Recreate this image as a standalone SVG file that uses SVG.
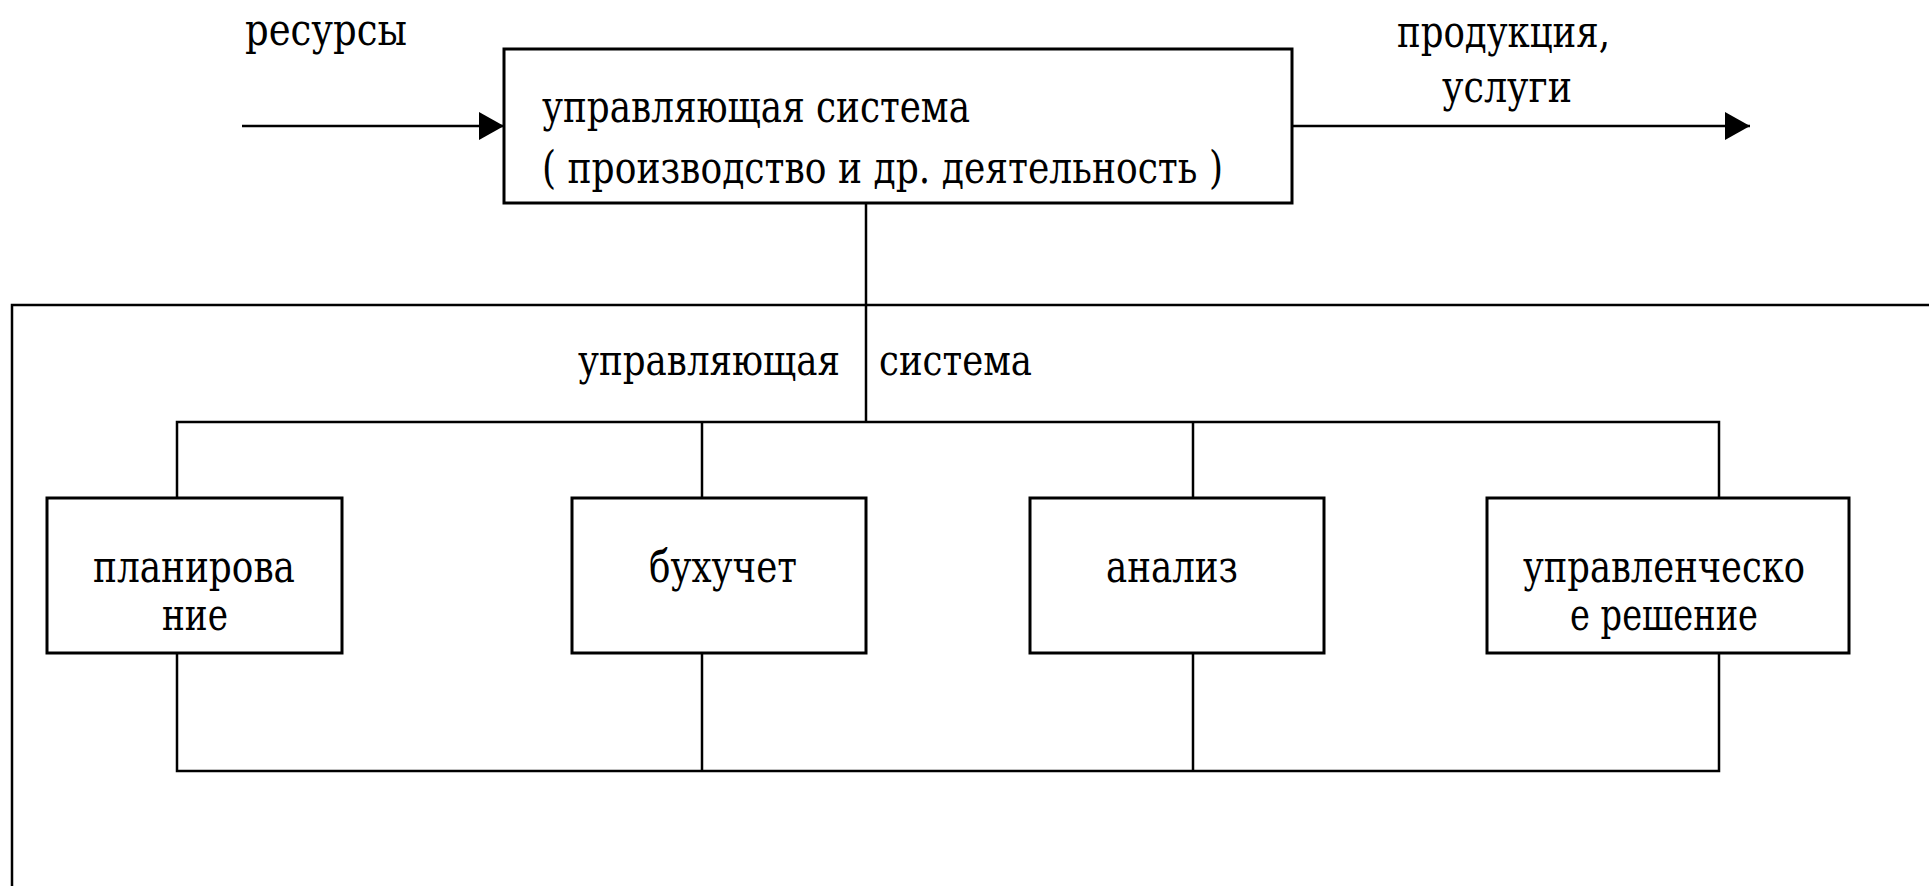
<svg xmlns="http://www.w3.org/2000/svg" width="1929" height="886" viewBox="0 0 1929 886">
<style>
.t{font-family:"DejaVu Serif","Liberation Serif",serif;font-size:44px;fill:#000;}
.s{font-size:42px;}
.box{fill:#fff;stroke:#000;stroke-width:3;}
.ln{fill:none;stroke:#000;stroke-width:2.5;}
</style>
<defs>
<marker id="ah" markerUnits="userSpaceOnUse" markerWidth="26" markerHeight="28" refX="25" refY="14" orient="auto">
<path d="M0,0 L25,14 L0,28 Z" fill="#000"/>
</marker>
</defs>
<rect width="1929" height="886" fill="#fff"/>
<g id="connectors">
<line class="ln" x1="242" y1="126" x2="504" y2="126" marker-end="url(#ah)"/>
<line class="ln" x1="1292" y1="126" x2="1750" y2="126" marker-end="url(#ah)"/>
<path class="ln" d="M12,886 V305 H1929"/>
<line class="ln" x1="866" y1="203" x2="866" y2="422"/>
<path class="ln" d="M177,498 V422 H1719 V498"/>
<line class="ln" x1="702" y1="422" x2="702" y2="498"/>
<line class="ln" x1="1193" y1="422" x2="1193" y2="498"/>
<path class="ln" d="M177,653 V771 H1719 V653"/>
<line class="ln" x1="702" y1="653" x2="702" y2="771"/>
<line class="ln" x1="1193" y1="653" x2="1193" y2="771"/>
</g>
<g id="label-resources"><text class="t" x="245" y="45" textLength="162" lengthAdjust="spacingAndGlyphs">ресурсы</text></g>
<g id="label-products">
<text class="t" x="1397" y="47" textLength="213" lengthAdjust="spacingAndGlyphs">продукция,</text>
<text class="t" x="1442" y="102" textLength="130" lengthAdjust="spacingAndGlyphs">услуги</text>
</g>
<g id="managed-system">
<rect class="box" x="504" y="49" width="788" height="154"/>
<text class="t" x="542" y="122" textLength="428" lengthAdjust="spacingAndGlyphs">управляющая система</text>
<text class="t" x="542" y="183" textLength="681" lengthAdjust="spacingAndGlyphs">( производство и др. деятельность )</text>
</g>
<g id="control-system">
<text class="t s" x="578" y="375" textLength="262" lengthAdjust="spacingAndGlyphs">управляющая</text>
<text class="t s" x="879" y="375" textLength="153" lengthAdjust="spacingAndGlyphs">система</text>
</g>
<g id="planning">
<rect class="box" x="47" y="498" width="295" height="155"/>
<text class="t" x="93" y="582" textLength="202" lengthAdjust="spacingAndGlyphs">планирова</text>
<text class="t" x="162" y="630" textLength="66" lengthAdjust="spacingAndGlyphs">ние</text>
</g>
<g id="accounting">
<rect class="box" x="572" y="498" width="294" height="155"/>
<text class="t" x="649" y="582" textLength="148" lengthAdjust="spacingAndGlyphs">бухучет</text>
</g>
<g id="analysis">
<rect class="box" x="1030" y="498" width="294" height="155"/>
<text class="t" x="1106" y="582" textLength="132" lengthAdjust="spacingAndGlyphs">анализ</text>
</g>
<g id="decision">
<rect class="box" x="1487" y="498" width="362" height="155"/>
<text class="t" x="1523" y="582" textLength="282" lengthAdjust="spacingAndGlyphs">управленческо</text>
<text class="t" x="1570" y="630" textLength="188" lengthAdjust="spacingAndGlyphs">е решение</text>
</g>
</svg>
